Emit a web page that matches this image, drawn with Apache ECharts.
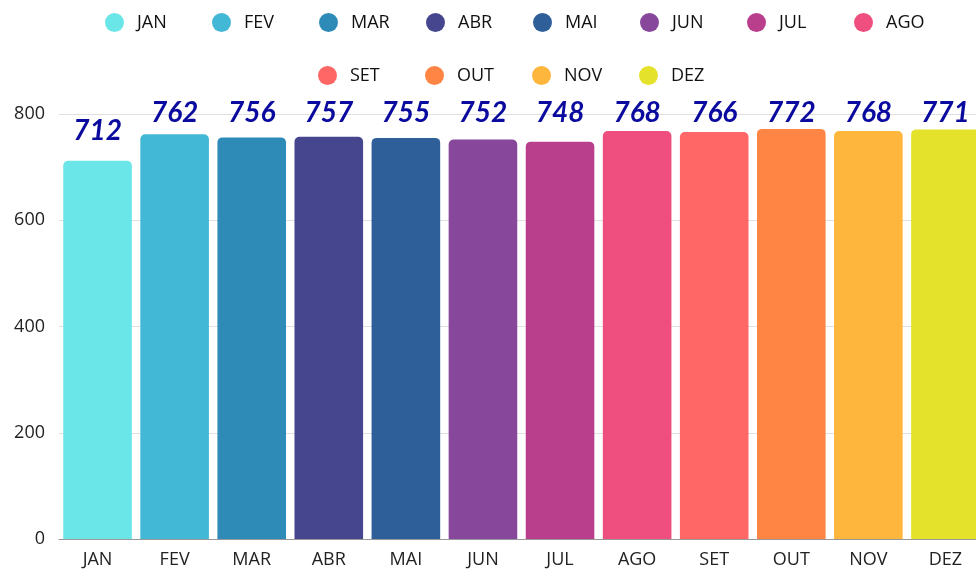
<!DOCTYPE html>
<html lang="pt">
<head>
    <meta charset="UTF-8">
    <title>Total por mês</title>
    <script src="https://cdn.jsdelivr.net/npm/echarts@6/dist/echarts.min.js"></script>
    <style>
        html, body { margin: 0; padding: 0; background: #fff; }
        #chart { width: 976px; height: 569px; }
    </style>
</head>
<body>
    <div id="chart"></div>

    <script>
        // months shown on the x axis and in the legend
        var months = ['JAN', 'FEV', 'MAR', 'ABR', 'MAI', 'JUN', 'JUL', 'AGO', 'SET', 'OUT', 'NOV', 'DEZ'];
        var values = [712, 762, 756, 757, 755, 752, 748, 768, 766, 772, 768, 771];
        // one colour per month
        var colors = ['#6ae6e8', '#43b8d6', '#2e8bb8', '#46468f', '#2e5f99', '#87479b',
                      '#b93f8c', '#ef4f7e', '#ff6666', '#ff8545', '#ffb63c', '#e5e22b'];
        var yTicks = [0, 200, 400, 600, 800];

        var chart = echarts.init(document.getElementById('chart'));

        // each month is its own series so the legend can list them,
        // stacked so every bar sits in the middle of its category
        var series = months.map(function (m, i) {
            return {
                name: m,
                type: 'bar',
                stack: 'total',
                barCategoryGap: '11%',
                data: values.map(function (v, j) { return j === i ? v : null; }),
                itemStyle: { color: colors[i], borderRadius: [5, 5, 0, 0] },
                label: {
                    show: true,
                    position: 'top',
                    distance: 16,
                    fontFamily: 'Lato',
                    fontWeight: 'bold',
                    fontStyle: 'italic',
                    fontSize: 28,
                    color: '#0a0a9e'
                },
                // labels never climb above the band just over the plot top
                labelLayout: function (p) {
                    var r = p.labelRect;
                    return {
                        x: r.x + r.width / 2,
                        y: Math.max(r.y + r.height, 127),
                        align: 'center',
                        verticalAlign: 'bottom'
                    };
                }
            };
        });

        // legend laid out as two centred rows with a fixed pitch per item
        var legendPitch = 107;
        var legends = months.map(function (m, i) {
            var row2 = i >= 8;
            return {
                orient: 'horizontal',
                icon: 'circle',
                itemWidth: 35,
                itemHeight: 19,
                left: row2 ? 313 + (i - 8) * legendPitch : 100 + i * legendPitch,
                top: row2 ? 61 : 8,
                data: [m],
                textStyle: { fontFamily: 'Open Sans', fontSize: 18, color: '#111' }
            };
        });

        var option = {
            color: colors,
            animation: false,
            legend: legends,
            // the plot runs a little past the right edge, as in the original
            grid: { left: 59, width: 925, top: 114, bottom: 30, outerBoundsMode: 'none' },
            xAxis: {
                type: 'category',
                data: months,
                axisTick: { show: false },
                axisLine: { lineStyle: { color: '#999' } },
                axisLabel: { fontFamily: 'Open Sans', fontSize: 18, color: '#222', margin: 12 }
            },
            yAxis: {
                type: 'value',
                min: yTicks[0],
                max: yTicks[yTicks.length - 1],
                interval: 200,
                axisLine: { show: false },
                axisTick: { show: false },
                splitLine: { lineStyle: { color: '#e0e0e0' } },
                axisLabel: { fontFamily: 'Open Sans', fontSize: 18, color: '#222', margin: 14 }
            },
            series: series
        };

        chart.setOption(option);
    </script>
</body>
</html>
